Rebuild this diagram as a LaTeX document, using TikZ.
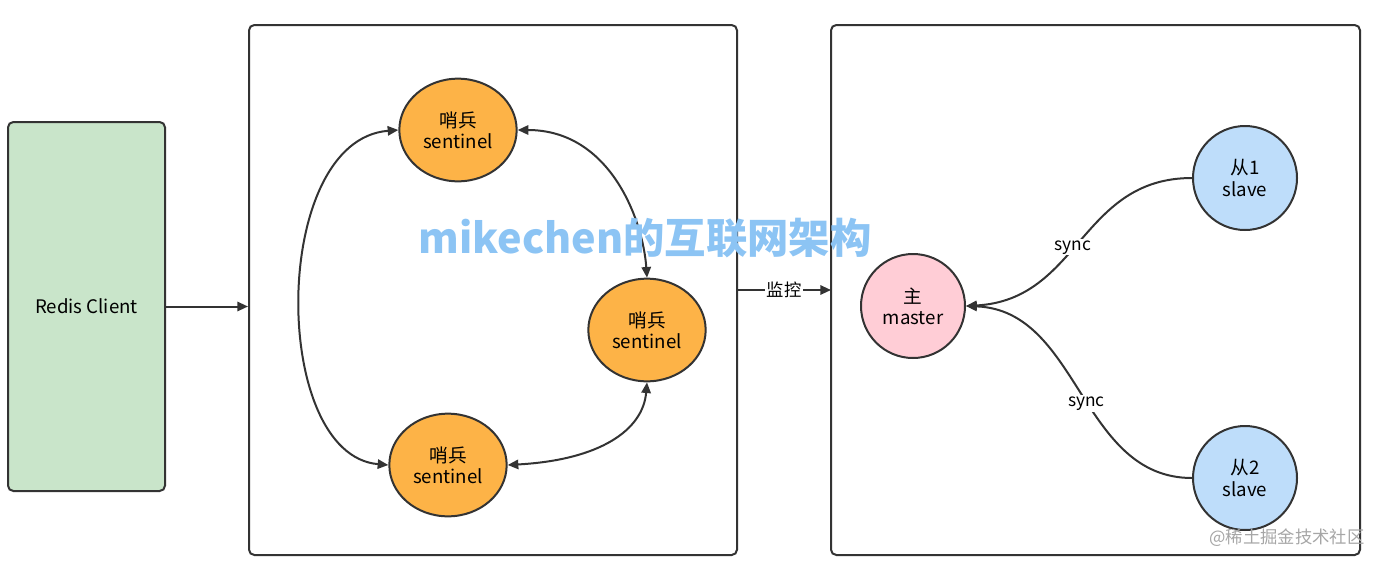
\documentclass[tikz,border=0pt]{standalone}
\usepackage{fontspec}
\setmainfont{Noto Sans CJK SC}
\usetikzlibrary{arrows.meta,shapes.geometric}
\definecolor{cgreen}{HTML}{C9E5CA}
\definecolor{corange}{HTML}{FDB347}
\definecolor{cpink}{HTML}{FFCDD6}
\definecolor{cblue}{HTML}{BEDDFA}
\definecolor{cline}{HTML}{333333}
\definecolor{cwm}{HTML}{8CC4F4}
\begin{document}
\begin{tikzpicture}[x=0.75pt,y=-0.75pt,
  box/.style={draw=cline,line width=1.5pt,rounded corners=4pt},
  sent/.style={draw=cline,line width=1.5pt,ellipse,fill=corange,minimum width=88pt,minimum height=77pt,inner sep=0pt,align=center,font=\fontsize{14}{16}\selectfont},
  rnd/.style={draw=cline,line width=1.5pt,circle,minimum size=78pt,inner sep=0pt,align=center,font=\fontsize{14}{16}\selectfont},
  arr/.style={draw=cline,line width=1.5pt,-{Triangle[length=8pt,width=7pt]}},
  darr/.style={draw=cline,line width=1.5pt,{Triangle[length=8pt,width=7pt]}-{Triangle[length=8pt,width=7pt]}},
  lab/.style={fill=white,inner sep=1pt,font=\fontsize{13}{15}\selectfont}]
\useasboundingbox (0,0) rectangle (1385,565);
\node[box,fill=cgreen,minimum width=157*0.75pt,minimum height=369*0.75pt,font=\fontsize{14}{16}\selectfont] (client) at (86.5,306.5) {Redis Client};
\node[box,minimum width=488*0.75pt,minimum height=530*0.75pt] (b1) at (493,290) {};
\node[box,minimum width=529*0.75pt,minimum height=530*0.75pt] (b2) at (1095.5,290) {};
\node[sent] (s1) at (458,130) {哨兵\\sentinel};
\node[sent] (s2) at (647,330) {哨兵\\sentinel};
\node[sent] (s3) at (448,465) {哨兵\\sentinel};
\node[rnd,fill=cpink] (m) at (913,306) {主\\master};
\node[rnd,fill=cblue] (sl1) at (1245,178) {从1\\slave};
\node[rnd,fill=cblue] (sl2) at (1245,478) {从2\\slave};
\draw[arr] (client.east) -- (b1.west |- client.east);
\coordinate (mo1) at (737,290);
\coordinate (mo2) at (831,290);
\draw[arr] (mo1) -- node[lab]{监控} (mo2);
\draw[darr] (s1.west) .. controls (270,140) and (270,455) .. (s3.west);
\draw[darr] (s1.east) .. controls (610,130) and (643,220) .. (s2.north);
\draw[darr] (s3.east) .. controls (600,460) and (643,430) .. (s2.south);
\draw[arr] (sl1.west) .. controls (1080,178) and (1080,300) .. node[lab,pos=0.54]{sync} (m.east);
\draw[arr] (sl2.west) .. controls (1080,478) and (1080,310) .. node[lab,pos=0.46]{sync} (m.east);
\node[text=cwm,font=\fontsize{31}{35}\selectfont\bfseries] (wm) at (645,238) {mikechen的互联网架构};
\node[text=gray!70,font=\fontsize{13}{15}\selectfont] (wm2) at (1287,538) {@稀土掘金技术社区};
\end{tikzpicture}
\end{document}
